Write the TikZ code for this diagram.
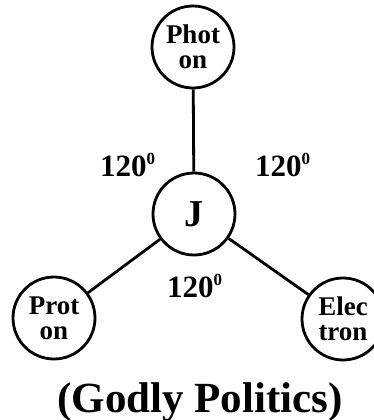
\documentclass[tikz,border=0pt]{standalone}
\usepackage{fontspec}
\setmainfont{Liberation Serif}
\newcommand{\degsup}{\raisebox{12pt}{\fontsize{17}{17}\selectfont 0}}
\begin{document}
\begin{tikzpicture}[x=1pt,y=-1pt,
    particle/.style={draw,circle,line width=2.8pt,minimum size=82pt,inner sep=0pt,
      align=center,font=\fontsize{27}{25}\selectfont\bfseries},
    degree/.style={anchor=base west,inner sep=0pt,font=\fontsize{31}{31}\selectfont\bfseries}]
  \useasboundingbox (0,0) rectangle (374,420);
  \draw
    (193,47) node[particle] (photon){Phot\\on}
    (194,214) node[particle,font=\fontsize{38}{38}\selectfont\bfseries] (J){J}
    (54,318) node[particle] (proton){Prot\\on}
    (343,319) node[particle] (electron){Elec\\tron};
  \begin{scope}[line width=2.8pt]
    \draw (photon) to (J);
    \draw (J) to (proton);
    \draw (J) to (electron);
  \end{scope}
  \node[degree] (degleft) at (100,176) {120\degsup};
  \node[degree] (degright) at (255,176) {120\degsup};
  \node[degree] (degdown) at (167,297) {120\degsup};
  \node[anchor=base,font=\fontsize{43}{43}\selectfont\bfseries] (title) at (200,412) {(Godly Politics)};
\end{tikzpicture}
\end{document}
